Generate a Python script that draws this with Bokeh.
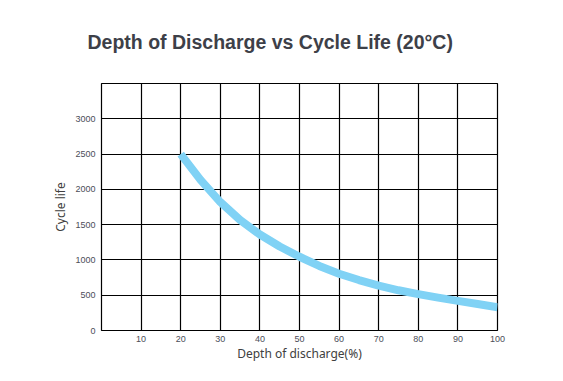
from bokeh.plotting import figure
from bokeh.models import FixedTicker, Range1d, Title
from bokeh.embed import file_html
from bokeh.resources import INLINE

# Data
depth_of_discharge = [20, 25, 30, 35, 40, 45, 50, 55, 60, 65, 70, 75, 80, 85, 90, 95, 100]
cycle_life = [2500, 2135, 1820, 1565, 1360, 1190, 1045, 915, 805, 715, 635, 570, 515, 465, 420, 375, 330]
x_tick_values = [10, 20, 30, 40, 50, 60, 70, 80, 90, 100]
y_tick_values = [0, 500, 1000, 1500, 2000, 2500, 3000]
title_text = "Depth of Discharge vs Cycle Life (20°C)"

W, H = 563, 381
p = figure(
    width=W, height=H,
    output_backend="svg", toolbar_location=None,
    x_range=Range1d(0, 100), y_range=Range1d(0, 3500),
    min_border_left=101, min_border_right=66,
    min_border_top=83, min_border_bottom=51,
)
p.background_fill_color = "white"
p.border_fill_color = "white"
p.outline_line_color = "black"
p.outline_line_width = 1.2

p.title = Title(text=title_text, align="left", vertical_align="top",
                offset=-14, standoff=58)
p.title.text_font = "Liberation Sans"
p.title.text_font_size = "19.5px"
p.title.text_font_style = "bold"
p.title.text_color = "#3d4048"

p.xaxis.ticker = FixedTicker(ticks=x_tick_values)
p.yaxis.ticker = FixedTicker(ticks=y_tick_values)

for ax in (p.xaxis, p.yaxis):
    ax.axis_line_color = None
    ax.major_tick_line_color = None
    ax.minor_tick_line_color = None
    ax.major_tick_out = 0
    ax.major_tick_in = 0
    ax.minor_tick_out = 0
    ax.minor_tick_in = 0
    ax.major_label_text_font = "Liberation Sans"
    ax.major_label_text_font_size = "9px"
    ax.major_label_text_color = "#4a4d58"
    ax.axis_label_text_font = "Noto Sans"
    ax.axis_label_text_font_size = "12px"
    ax.axis_label_text_font_style = "normal"
    ax.axis_label_text_color = "#404040"

p.xaxis.axis_label = "Depth of discharge(%)"
p.yaxis.axis_label = "Cycle life"
p.xaxis.major_label_standoff = 5
p.yaxis.major_label_standoff = 6
p.xaxis.axis_label_standoff = 0
p.yaxis.axis_label_standoff = 3

for g in (p.xgrid, p.ygrid):
    g.grid_line_color = "black"
    g.grid_line_width = 1.2

p.line(depth_of_discharge, cycle_life, line_color="#80d2f5", line_width=8,
       line_cap="butt", line_join="round")

open("out.html", "w").write(file_html(p, INLINE))
